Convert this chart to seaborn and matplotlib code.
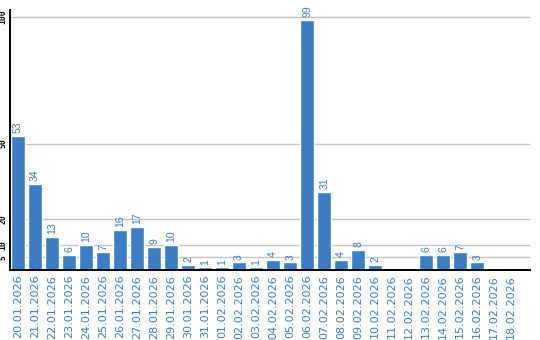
import matplotlib
matplotlib.use("Agg")
import matplotlib.pyplot as plt
import seaborn as sns
import pandas as pd

dates = ["20.01.2026", "21.01.2026", "22.01.2026", "23.01.2026", "24.01.2026",
         "25.01.2026", "26.01.2026", "27.01.2026", "28.01.2026", "29.01.2026",
         "30.01.2026", "31.01.2026", "01.02.2026", "02.02.2026", "03.02.2026",
         "04.02.2026", "05.02.2026", "06.02.2026", "07.02.2026", "08.02.2026",
         "09.02.2026", "10.02.2026", "11.02.2026", "12.02.2026", "13.02.2026",
         "14.02.2026", "15.02.2026", "16.02.2026", "17.02.2026", "18.02.2026"]
values = [53, 34, 13, 6, 10, 7, 16, 17, 9, 10,
          2, 1, 1, 3, 1, 4, 3, 99, 31, 4,
          8, 2, 0, 0, 6, 6, 7, 3, 0, 0]
y_ticks = [5, 10, 20, 50, 100]

BLUE = "#3c7dc4"
GRID = "#c4c4c4"

sns.set_theme(style="white")
plt.rcParams["font.family"] = ["DejaVu Sans"]

df = pd.DataFrame({"date": dates, "value": values})

fig = plt.figure(figsize=(5.4, 3.4), dpi=100)
ax = fig.add_axes([10 / 540, 70 / 340, 520 / 540, 260 / 340])

sns.barplot(data=df, x="date", y="value", color=BLUE, saturation=1,
            width=0.82, ax=ax, zorder=3)

ax.set_ylim(0, 102.8)
ax.set_xlim(-0.47, 30.1)
ax.set_yticks(y_ticks)
ax.set_yticklabels([str(t) for t in y_ticks], rotation=90, va="center",
                   fontsize=5.8, family="DejaVu Sans Mono", fontweight="bold",
                   color="black")
ax.tick_params(axis="y", length=0, pad=1.8)
ax.tick_params(axis="x", length=0, pad=3.5)
ax.set_xticks(range(len(dates)))
ax.set_xticklabels(dates, rotation=90, fontsize=8, color=BLUE, va="top", ha="center")

for t in y_ticks:
    ax.axhline(t, color=GRID, linewidth=1, zorder=1)

for s in ["top", "right"]:
    ax.spines[s].set_visible(False)
for s in ["left", "bottom"]:
    ax.spines[s].set_color("black")
    ax.spines[s].set_linewidth(1.4)
    ax.spines[s].set_zorder(4)

labels = [str(v) if v > 0 else "" for v in values]
ax.bar_label(ax.containers[0], labels=labels, rotation=90, padding=2,
             fontsize=7.5, color=BLUE, family="Liberation Sans")

ax.set_xlabel("")
ax.set_ylabel("")
ax.grid(False)

fig.savefig("out.png", dpi=100)
